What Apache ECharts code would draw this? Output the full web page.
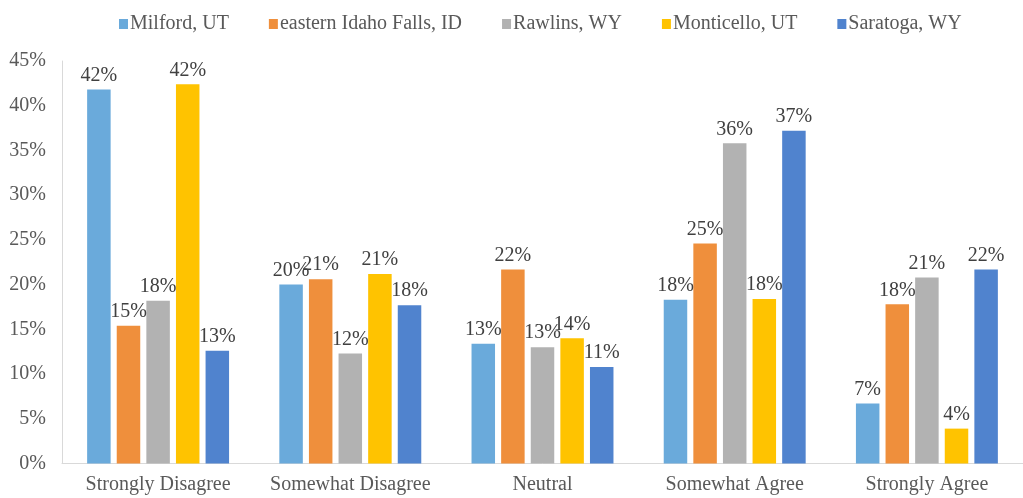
<!DOCTYPE html>
<html>
<head>
<meta charset="utf-8">
<script src="https://cdn.jsdelivr.net/npm/echarts@6/dist/echarts.min.js"></script>
<style>
  html, body { margin: 0; padding: 0; background: #fff; }
  #chart { width: 1023px; height: 498px; }
</style>
</head>
<body>
<div id="chart"></div>
<script>
// categories and series (percent)
var categories = ['Strongly Disagree', 'Somewhat Disagree', 'Neutral', 'Somewhat Agree', 'Strongly Agree'];
var milford    = [41.8, 20.0, 13.4, 18.3, 6.7];
var idahoFalls = [15.4, 20.6, 21.7, 24.6, 17.8];
var rawlins    = [18.2, 12.3, 13.0, 35.8, 20.8];
var monticello = [42.4, 21.2, 14.0, 18.4, 3.9];
var saratoga   = [12.6, 17.7, 10.8, 37.2, 21.7];

var font = '"Liberation Serif", "Times New Roman", serif';

let chart = echarts.init(document.getElementById('chart'));

function bar(name, data, color) {
    return {
        name: name,
        type: 'bar',
        data: data,
        barWidth: 23.5,
        barGap: '26%',
        itemStyle: { color: color },
        label: {
            show: true,
            position: 'top',
            distance: 4,
            fontFamily: font,
            fontSize: 20,
            color: '#404040',
            formatter: function (p) { return Math.round(p.value) + '%'; }
        }
    };
}

var option = {
    animation: false,
    legend: {
        top: 9,
        left: 114,
        itemWidth: 9,
        itemHeight: 10,
        itemGap: 40,
        icon: 'rect',
        textStyle: { fontFamily: font, fontSize: 20, color: '#595959', padding: [0, 0, 0, -3] }
    },
    grid: {
        left: 62,
        width: 970,
        top: 61,
        bottom: 34.5
    },
    xAxis: {
        type: 'category',
        data: categories,
        axisLine: { lineStyle: { color: '#d9d9d9', width: 1 } },
        axisTick: { show: false },
        axisLabel: { interval: 0, fontFamily: font, fontSize: 20, color: '#595959', margin: 11 }
    },
    yAxis: {
        type: 'value',
        min: 0,
        max: 45,
        interval: 5,
        axisLine: { show: true, lineStyle: { color: '#d9d9d9', width: 1 } },
        axisTick: { show: false },
        splitLine: { show: false },
        axisLabel: { fontFamily: font, fontSize: 20, color: '#595959', margin: 16, formatter: '{value}%' }
    },
    series: [
        bar('Milford, UT', milford, '#6aaadb'),
        bar('eastern Idaho Falls, ID', idahoFalls, '#ef8f3c'),
        bar('Rawlins, WY', rawlins, '#b2b2b2'),
        bar('Monticello, UT', monticello, '#ffc300'),
        bar('Saratoga, WY', saratoga, '#5083ce')
    ]
};

option && chart.setOption(option, true);
</script>
</body>
</html>
